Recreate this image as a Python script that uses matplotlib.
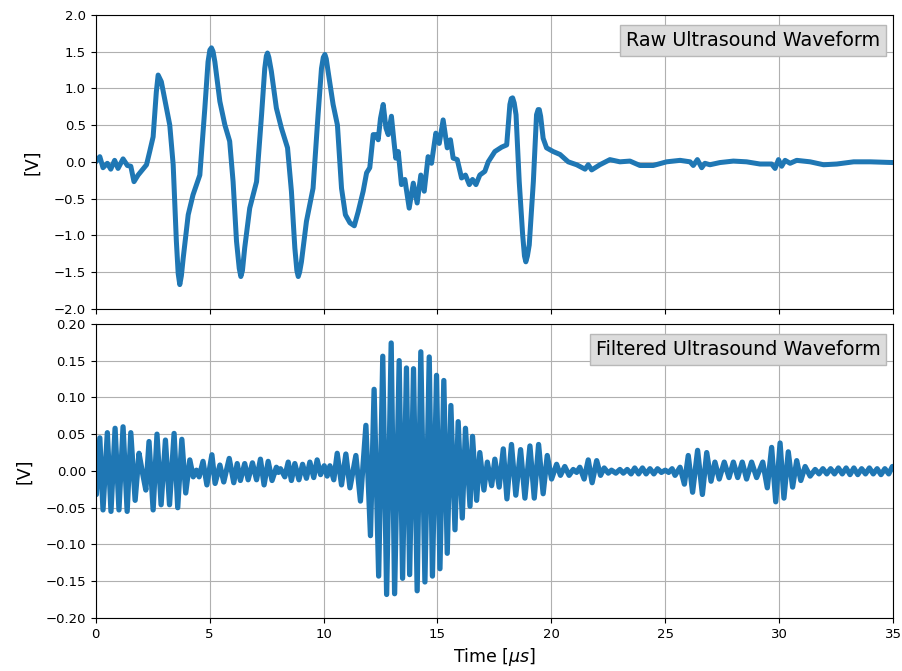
import numpy as np
import matplotlib
matplotlib.use("Agg")
import matplotlib.pyplot as plt

# raw waveform (time in us, value in V)
raw_t = [0.00, 0.18, 0.32, 0.51, 0.66, 0.83, 0.98, 1.20, 1.39, 1.54, 1.68, 1.86,
         2.23, 2.37, 2.52, 2.66, 2.74, 2.88, 3.25, 3.40, 3.54, 3.62, 3.69, 3.76, 3.84, 4.06, 4.27,
         4.57, 4.79, 4.93, 5.01, 5.08, 5.15, 5.23, 5.45, 5.67, 5.88, 6.03, 6.18, 6.30, 6.37, 6.44, 6.54,
         6.76, 7.06, 7.28, 7.42, 7.49, 7.54, 7.60, 7.71, 7.93, 8.15, 8.42, 8.59, 8.74, 8.83, 8.89, 8.95,
         9.03, 9.25, 9.54, 9.76, 9.91, 9.99, 10.06, 10.12, 10.20, 10.42, 10.61, 10.79, 10.96, 11.16,
         11.35, 11.52, 11.74, 11.89, 12.03, 12.18, 12.30, 12.40, 12.50, 12.62, 12.74, 12.84,
         12.98, 13.09, 13.17, 13.28, 13.42, 13.57, 13.76, 13.94, 14.11, 14.27, 14.42, 14.59,
         14.74, 14.93, 15.08, 15.25, 15.43, 15.57, 15.69, 15.87, 16.06, 16.23, 16.40, 16.54,
         16.69, 16.86, 17.08, 17.23, 17.52, 17.82, 18.04, 18.18, 18.24, 18.30, 18.37, 18.45, 18.59, 18.74,
         18.82, 18.88, 18.95, 19.03, 19.21, 19.35, 19.42, 19.47, 19.53, 19.64, 19.79, 20.08, 20.38, 20.74, 21.11, 21.48,
         21.62, 21.77, 22.13, 22.57, 23.01, 23.45, 23.89, 24.47, 25.06, 25.65, 26.09, 26.23,
         26.41, 26.60, 26.74, 26.96, 27.40, 27.99, 28.57, 29.16, 29.67, 29.82, 29.97, 30.11,
         30.26, 30.48, 30.77, 31.36, 31.95, 32.53, 33.27, 34.00, 35.00]
raw_v = [0.00, 0.07, -0.08, -0.02, -0.10, 0.02, -0.09, 0.04, -0.05, -0.06, -0.27, -0.18,
         -0.04, 0.14, 0.34, 0.95, 1.18, 1.09, 0.50, -0.04, -1.08, -1.52, -1.67, -1.55, -1.31, -0.72, -0.45,
         -0.18, 0.73, 1.36, 1.52, 1.55, 1.50, 1.36, 0.82, 0.50, 0.28, -0.27, -1.08, -1.45, -1.56, -1.48, -1.17,
         -0.63, -0.27, 0.64, 1.27, 1.44, 1.48, 1.42, 1.23, 0.73, 0.46, 0.19, -0.40, -1.17, -1.48, -1.56, -1.50,
         -1.36, -0.81, -0.36, 0.64, 1.27, 1.42, 1.46, 1.40, 1.23, 0.78, 0.50, -0.36, -0.72, -0.83,
         -0.87, -0.68, -0.40, -0.15, -0.08, 0.37, 0.37, 0.30, 0.59, 0.78, 0.46, 0.37,
         0.62, 0.28, 0.05, 0.14, -0.31, -0.24, -0.63, -0.29, -0.56, -0.18, -0.40, 0.07,
         -0.02, 0.39, 0.25, 0.57, 0.19, 0.30, 0.05, 0.03, -0.22, -0.18, -0.31, -0.24,
         -0.31, -0.18, -0.13, 0.00, 0.14, 0.20, 0.23, 0.78, 0.86, 0.87, 0.80, 0.64, -0.27, -0.99,
         -1.28, -1.36, -1.28, -1.13, -0.27, 0.64, 0.71, 0.71, 0.62, 0.32, 0.19, 0.14, 0.10, 0.00, -0.04, -0.10,
         -0.04, -0.11, -0.04, 0.03, 0.00, 0.01, -0.05, -0.05, 0.00, 0.02, 0.00, -0.05,
         0.03, -0.08, -0.02, -0.04, -0.01, 0.01, 0.00, -0.03, -0.03, -0.09, 0.03, -0.06,
         0.02, -0.02, 0.02, 0.00, -0.04, -0.03, 0.00, 0.00, -0.01]

# filtered waveform: peaks and troughs
filt_t = [0.00, 0.03, 0.18, 0.32, 0.51, 0.67, 0.85, 1.02, 1.20, 1.38, 1.54, 1.73,
          1.90, 2.05, 2.20, 2.34, 2.52, 2.69, 2.87, 3.06, 3.24, 3.44, 3.60, 3.78,
          3.95, 4.13, 4.28, 4.42, 4.54, 4.71, 4.88, 5.10, 5.24, 5.45, 5.62, 5.86,
          6.06, 6.21, 6.35, 6.54, 6.69, 6.88, 7.06, 7.23, 7.39, 7.57, 7.74, 7.93,
          8.02, 8.11, 8.30, 8.45, 8.59, 8.74, 8.92, 9.08, 9.25, 9.40, 9.57, 9.72,
          9.87, 10.03, 10.16, 10.28, 10.45, 10.60, 10.79, 10.98, 11.16, 11.42, 11.62, 11.86,
          12.06, 12.22, 12.42, 12.60, 12.77, 12.97, 13.12, 13.32, 13.47, 13.64, 13.78, 13.95,
          14.11, 14.27, 14.45, 14.64, 14.78, 14.96, 15.11, 15.28, 15.43, 15.59, 15.77, 15.91,
          16.09, 16.23, 16.43, 16.54, 16.72, 16.86, 17.04, 17.19, 17.38, 17.52, 17.71, 17.89,
          18.05, 18.25, 18.44, 18.65, 18.84, 19.06, 19.25, 19.44, 19.64, 19.82, 20.01, 20.23,
          20.40, 20.59, 20.78, 20.96, 21.11, 21.25, 21.44, 21.62, 21.79, 21.99, 22.16, 22.32,
          22.50, 22.64, 22.83, 23.01, 23.16, 23.33, 23.50, 23.66, 23.83, 24.00, 24.16, 24.33,
          24.50, 24.66, 24.83, 25.00, 25.15, 25.30, 25.43, 25.65, 25.84, 26.01, 26.20, 26.42,
          26.63, 26.82, 27.01, 27.18, 27.37, 27.59, 27.80, 27.99, 28.18, 28.38, 28.57, 28.79,
          29.01, 29.28, 29.48, 29.67, 29.85, 30.04, 30.21, 30.40, 30.59, 30.77, 30.95, 31.14,
          31.36, 31.58, 31.75, 31.92, 32.09, 32.26, 32.43, 32.60, 32.77, 32.94, 33.11, 33.28,
          33.45, 33.62, 33.79, 33.96, 34.13, 34.30, 34.47, 34.64, 34.81, 34.97, 35.00]
filt_v = [-0.030, -0.032, 0.045, -0.053, 0.052, -0.055, 0.058, -0.053, 0.060, -0.055, 0.052, -0.040,
          0.024, -0.002, -0.026, 0.040, -0.053, 0.050, -0.046, 0.042, -0.046, 0.051, -0.050, 0.043,
          -0.030, 0.015, -0.008, 0.001, -0.008, 0.013, -0.019, 0.022, -0.017, 0.008, -0.015, 0.017,
          -0.016, 0.010, -0.013, 0.010, -0.012, 0.011, -0.012, 0.016, -0.019, 0.013, -0.013, 0.005,
          -0.002, 0.003, -0.008, 0.012, -0.013, 0.010, -0.012, 0.009, -0.010, 0.012, -0.009, 0.015,
          -0.005, 0.007, -0.007, 0.007, -0.012, 0.024, -0.019, 0.023, -0.023, 0.021, -0.041, 0.062,
          -0.088, 0.111, -0.143, 0.156, -0.168, 0.174, -0.167, 0.150, -0.146, 0.140, -0.141, 0.139,
          -0.163, 0.162, -0.151, 0.155, -0.143, 0.130, -0.133, 0.123, -0.112, 0.089, -0.080, 0.067,
          -0.064, 0.058, -0.048, 0.047, -0.040, 0.025, -0.026, 0.012, -0.020, 0.016, -0.022, 0.030,
          -0.038, 0.036, -0.033, 0.029, -0.037, 0.034, -0.037, 0.036, -0.031, 0.021, -0.011, 0.009,
          -0.006, 0.006, -0.006, 0.002, -0.002, 0.005, -0.011, 0.015, -0.016, 0.014, -0.006, 0.004,
          -0.003, 0.001, -0.003, 0.002, -0.003, 0.002, -0.004, 0.004, -0.004, 0.004, -0.004, 0.003,
          -0.004, 0.003, -0.002, 0.001, -0.002, 0.003, -0.006, 0.005, -0.018, 0.021, -0.029, 0.028,
          -0.032, 0.025, -0.014, 0.012, -0.011, 0.012, -0.009, 0.012, -0.009, 0.012, -0.011, 0.012,
          -0.009, 0.012, -0.023, 0.032, -0.042, 0.038, -0.037, 0.026, -0.022, 0.014, -0.013, 0.006,
          -0.007, 0.002, -0.004, 0.003, -0.004, 0.003, -0.004, 0.004, -0.004, 0.004, -0.005, 0.004,
          -0.005, 0.003, -0.004, 0.004, -0.004, 0.003, -0.005, 0.003, -0.004, 0.006, 0.006]

fig, (ax1, ax2) = plt.subplots(2, 1, sharex=True, figsize=(9.03, 6.71), dpi=100)
fig.subplots_adjust(left=0.106, right=0.989, top=0.978, bottom=0.079, hspace=0.051)

box = dict(boxstyle='square,pad=0.3', fc='#dcdcdc', ec='#b8b8b8')

ax1.plot(raw_t, raw_v, color='#1f77b4', lw=3.6)
ax1.set_ylim(-2.0, 2.0)
ax1.set_yticks(np.arange(-2.0, 2.01, 0.5))
ax1.set_ylabel('[V]', fontsize=12.5, labelpad=9)
ax1.grid(True)
ax1.text(0.984, 0.945, 'Raw Ultrasound Waveform', transform=ax1.transAxes,
         ha='right', va='top', fontsize=13.8, bbox=box)

ax2.plot(filt_t, filt_v, color='#1f77b4', lw=3.8)
ax2.set_ylim(-0.2, 0.2)
ax2.set_yticks(np.arange(-0.20, 0.201, 0.05))
ax2.set_ylabel('[V]', fontsize=12.5, labelpad=9)
ax2.set_xlabel(r'Time [$\mu s$]', fontsize=12.5)
ax2.set_xlim(0, 35)
ax2.grid(True)
ax2.text(0.984, 0.945, 'Filtered Ultrasound Waveform', transform=ax2.transAxes,
         ha='right', va='top', fontsize=13.8, bbox=box)

for ax in (ax1, ax2):
    ax.tick_params(labelsize=9.5)

plt.savefig('out.png', dpi=100)
